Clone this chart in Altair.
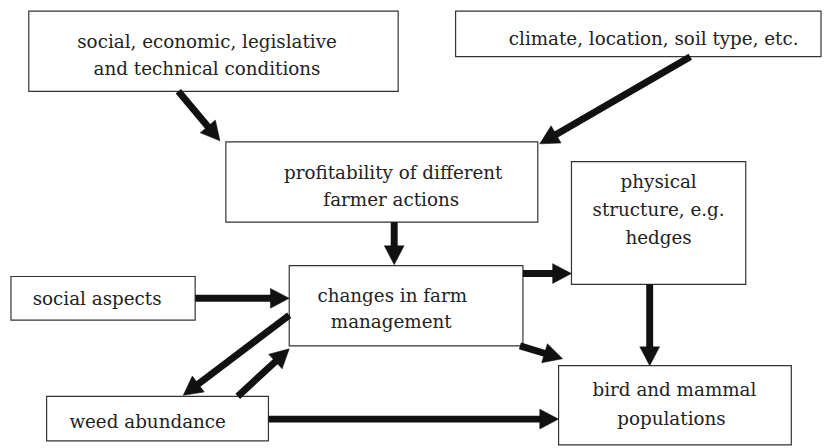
import math
import altair as alt
import pandas as pd

# ---- boxes (pixel coordinates on the 830x448 canvas) ----
box_x0 = [29, 460, 228, 577, 292, 11, 47, 564]
box_x1 = [402, 829, 543, 753, 528, 197, 271, 799]
box_y0 = [9, 9, 141, 161, 266, 277, 398, 367]
box_y1 = [90, 55, 222, 285, 347, 321, 443, 447]

# ---- label lines ----
label_text = [
    "social, economic, legislative", "and technical conditions",
    "climate, location, soil type, etc.",
    "profitability of different", "farmer actions",
    "physical", "structure, e.g.", "hedges",
    "changes in farm", "management",
    "social aspects",
    "weed abundance",
    "bird and mammal", "populations",
]
label_x = [209, 209, 660, 397, 395, 665, 665, 665, 396, 395, 98, 149, 681, 678]
label_y = [46, 73, 43, 179, 206, 188, 216, 244, 303, 329, 306, 430, 398, 427]

# ---- arrows: start -> tip ----
arrow_x0 = [180, 697, 398, 197, 528, 525, 656, 292, 240, 271]
arrow_y0 = [90, 55, 222, 299, 274, 347, 285, 316, 398, 421]
arrow_x1 = [222, 545, 398, 292, 577, 568, 656, 185, 292, 564]
arrow_y1 = [140, 143, 265, 299, 274, 360, 367, 397, 350, 421]

boxes = pd.DataFrame({"x0": box_x0, "x1": box_x1, "y0": box_y0, "y1": box_y1})
labels = pd.DataFrame({"t": label_text, "x": label_x, "y": label_y})

rows = []
head_len = 14
for sx, sy, ex, ey in zip(arrow_x0, arrow_y0, arrow_x1, arrow_y1):
    dx, dy = ex - sx, ey - sy
    L = math.hypot(dx, dy)
    ux, uy = dx / L, dy / L
    ang = (math.degrees(math.atan2(dx, -dy)) + 360) % 360
    rows.append({"sx": sx, "sy": sy, "bx": ex - ux * head_len, "by": ey - uy * head_len,
                 "ex": ex, "ey": ey, "ang": ang})
arrows = pd.DataFrame(rows)

xs = alt.Scale(domain=[8, 830])
ys = alt.Scale(domain=[8, 448], reverse=True)
noax = None

rects = alt.Chart(boxes).mark_rect(fill="white", stroke="#333333", strokeWidth=1.2).encode(
    x=alt.X("x0:Q", scale=xs, axis=noax), x2="x1:Q",
    y=alt.Y("y0:Q", scale=ys, axis=noax), y2="y1:Q",
)

texts = alt.Chart(labels).mark_text(
    fontSize=18.5, color="#222222",
    align="center", baseline="alphabetic",
).encode(
    x=alt.X("x:Q", scale=xs, axis=noax),
    y=alt.Y("y:Q", scale=ys, axis=noax),
    text="t:N",
)

shafts = alt.Chart(arrows).mark_rule(color="#111111", strokeWidth=7, strokeCap="butt").encode(
    x=alt.X("sx:Q", scale=xs, axis=noax), x2="bx:Q",
    y=alt.Y("sy:Q", scale=ys, axis=noax), y2="by:Q",
)

heads = alt.Chart(arrows).mark_point(
    shape="M0,0L-1,1.9L1,1.9Z", filled=True, fill="#111111", stroke="#111111",
    strokeWidth=0.5, opacity=1, size=400,
).encode(
    x=alt.X("ex:Q", scale=xs, axis=noax),
    y=alt.Y("ey:Q", scale=ys, axis=noax),
    angle=alt.Angle("ang:Q", scale=None),
)

chart = alt.layer(rects, shafts, heads, texts).properties(
    width=822, height=440, padding=0, autosize=alt.AutoSizeParams(type="none"),
    background="white",
).configure_view(strokeWidth=0).configure_text(font="DejaVu Serif")

chart.save("out.html", embed_options={"renderer": "svg", "actions": False})
